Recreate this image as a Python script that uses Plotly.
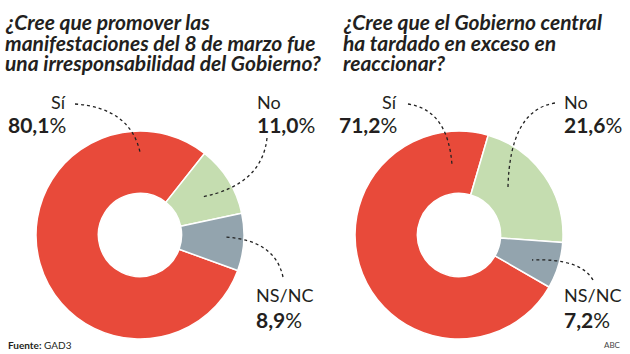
import plotly.graph_objects as go

W, H = 630, 354

categories = ["Sí", "No", "NS/NC"]
values_left = [80.1, 11.0, 8.9]
values_right = [71.2, 21.6, 7.2]
label_left = ["80,1", "11,0", "8,9"]
label_right = ["71,2", "21,6", "7,2"]
colors = ["#e84a3a", "#c5ddb0", "#93a4ae"]

title_left = ["¿Cree que promover las",
              "manifestaciones del 8 de marzo fue",
              "una irresponsabilidad del Gobierno?"]
title_right = ["¿Cree que el Gobierno central",
               "ha tardado en exceso en",
               "reaccionar?"]

FONT = "Lato"
TXT = "#231f20"


def px(x):
    return x / W


def py(y):
    return 1 - y / H


def dom(cx, cy, r):
    return dict(x=[px(cx - r), px(cx + r)], y=[py(cy + r), py(cy - r)])


fig = go.Figure()
for vals, (cx, cy), rot in [(values_left, (140, 235), 110), (values_right, (459, 235), 120)]:
    fig.add_trace(go.Pie(
        labels=categories, values=vals, hole=0.4, sort=False,
        direction="clockwise", rotation=rot,
        marker=dict(colors=colors, line=dict(color="white", width=1.5)),
        textinfo="none", hoverinfo="label+value", showlegend=False,
        domain=dom(cx, cy, 104),
    ))

ann = []
for i, line in enumerate(title_left):
    ann.append(dict(x=px(4), y=py(22 + i * 20), text=line, xanchor="left", yanchor="middle",
                    borderpad=0,
                    font=dict(family=FONT, size=21, color=TXT, weight="bold", style="italic")))
for i, line in enumerate(title_right):
    ann.append(dict(x=px(342), y=py(22 + i * 20), text=line, xanchor="left", yanchor="middle",
                    borderpad=0,
                    font=dict(family=FONT, size=21, color=TXT, weight="bold", style="italic")))

# label positions: (x, anchor, y_name, y_value)
pos_left = [(67, "right", 102, 124), (256, "left", 102, 124), (255, "left", 295, 319)]
pos_right = [(398, "right", 102, 124), (563, "left", 102, 124), (563, "left", 295, 319)]
for labs, pos in [(label_left, pos_left), (label_right, pos_right)]:
    for cat, lab, (x, anc, y1, y2) in zip(categories, labs, pos):
        ann.append(dict(x=px(x), y=py(y1), text=cat, xanchor=anc, yanchor="middle", borderpad=0,
                        font=dict(family=FONT, size=18, color=TXT)))
        ann.append(dict(x=px(x), y=py(y2), text=f"<b>{lab}</b>%", xanchor=anc, yanchor="middle",
                        borderpad=0, font=dict(family=FONT, size=21, color=TXT)))

ann.append(dict(x=px(6), y=py(345), text="<b>Fuente:</b> GAD3", xanchor="left", yanchor="middle",
                font=dict(family=FONT, size=10, color=TXT)))
ann.append(dict(x=px(623), y=py(345), text="ABC", xanchor="right", yanchor="middle",
                font=dict(family=FONT, size=8, color="#444")))
for a in ann:
    a.update(xref="paper", yref="paper", showarrow=False)

leaders = [
    ((75, 104), (130, 108), (140, 152)),
    ((267, 138), (262, 185), (202, 197)),
    ((283, 277), (275, 240), (225, 237)),
    ((408, 104), (448, 110), (452, 165)),
    ((555, 103), (510, 110), (508, 187)),
    ((593, 280), (580, 258), (532, 260)),
]
shapes = []
for p0, c, p1 in leaders:
    path = f"M {px(p0[0])},{py(p0[1])} Q {px(c[0])},{py(c[1])} {px(p1[0])},{py(p1[1])}"
    shapes.append(dict(type="path", path=path, xref="paper", yref="paper",
                       line=dict(color="#222", width=1.3, dash="dot"), layer="above"))

fig.update_layout(width=W, height=H, margin=dict(l=0, r=0, t=0, b=0),
                  paper_bgcolor="white", plot_bgcolor="white",
                  annotations=ann, shapes=shapes)
fig.write_html("out.html")
